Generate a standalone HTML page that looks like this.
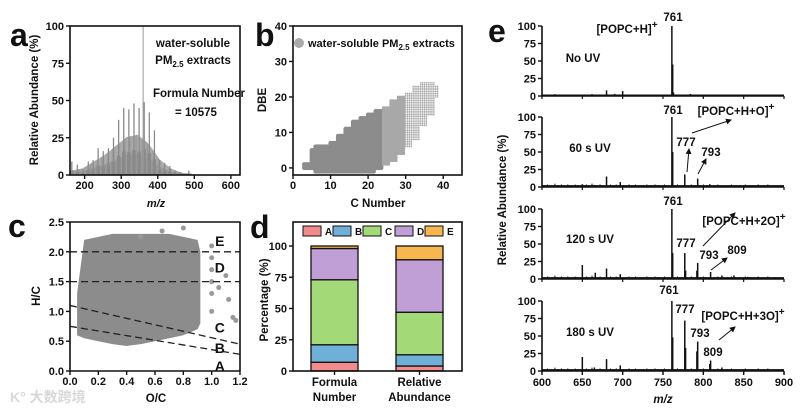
<!DOCTYPE html>
<html><head><meta charset="utf-8"><style>
body{margin:0;background:#fff}
svg{display:block;font-family:"Liberation Sans",Arial,sans-serif;font-weight:bold}
</style></head><body>
<svg id="fig" width="800" height="411" viewBox="0 0 800 411" xmlns="http://www.w3.org/2000/svg">
<g id="root"></g>
</svg>
<script>
// ---- Panel a data (m/z spectrum) ----
const aMainMz = [165,180,195,210,223,237,251,265,279,293,307,321,335,349,363,377,391,405,419,433,447,461,485];
const aMainH  = [9,7,4,9,10,18,16,18,25,37,45,44,48,45,49,42,30,10,8,6,3,2,3];
const aEnvMz  = [165,195,225,255,285,315,345,375,405,435,465,495];
const aEnvH   = [2,3,6,9,13,17,18,14,7,3,1,0.5];
const aTallMz = [360];
const aTallH  = [100];
// ---- Panel b data ----
const bC      = [3,5,6,8,10,12,14,16,18,20,22,24,26,28,30,32,34,36,38];
const bDbeMin = [0,0,-1,-1,-1,-1,-1,-1,-1,-1,0,1,2,4,6,8,12,15,20];
const bDbeMax = [1,5,6,6,7,9,11,13,14,15,16,17,19,20,21,23,24,24,23];
// ---- Panel c data ----
const cOC   = [0.05,0.1,0.2,0.3,0.4,0.5,0.6,0.7,0.8,0.9,0.92];
const cHmin = [0.6,0.55,0.5,0.45,0.42,0.45,0.5,0.55,0.6,0.7,0.8];
const cHmax = [1.3,2.2,2.25,2.3,2.3,2.3,2.3,2.3,2.25,2.2,2.0];
const cExtraOC = [1.0,1.0,1.0,1.0,1.0,1.0,1.05,1.1,1.12,1.15,1.17,0.8,0.65,0.5];
const cExtraHC = [2.1,1.9,1.7,1.3,1.0,1.5,1.4,1.6,1.2,0.9,0.85,2.4,2.35,2.25];
// ---- Panel d data ----
const dCats = [["Formula","Number"],["Relative","Abundance"]];
const dClasses = ["A","B","C","D","E"];
const dFormula = [7,14,52,25,2];
const dRelative = [4,9,34,42,11];
const dColors = ["#f28b8b","#6fb0d8","#a3d977","#bf9fd6","#f7b64e"];
// ---- Panel e data ----
const eNoiseMz = [603,607,612,616,620,624,628,632,636,641,645,655,658,662,668,672,676,685,688,692,701,705,708,712,716,722,726,730,735,740,744,748,752,768,772,785,788,797,800,804,815,818,825,830,835,840,845,852,858,862,868,875,880,888,892,896];
const eNoiseH  = [2,3,2,4,2,3,2,3,2,3,2,3,2,4,2,3,2,3,2,3,2,2,3,2,3,2,2,3,2,3,2,2,3,3,2,3,2,2,3,2,2,3,2,2,3,2,2,3,2,2,3,2,3,2,2,2];
const e1Mz = [650,680,690,700,761,762,763,784,830];
const e1H  = [2,8,3,7,100,45,5,3,2];
const e2Mz = [650,665,680,697,761,762,777,793,808];
const e2H  = [4,3,15,7,100,50,18,12,4];
const e3Mz = [650,666,680,697,761,762,777,778,792,793,809,823,838,855];
const e3H  = [20,9,15,7,100,37,37,12,12,23,10,5,5,3];
const e4Mz = [650,665,680,697,761,762,777,778,792,793,808,809,823];
const e4H  = [20,5,17,8,100,48,72,33,28,42,10,15,5];
const eSpectra = [[e1Mz,e1H],[e2Mz,e2H],[e3Mz,e3H],[e4Mz,e4H]];
const eLabels = ["No UV","60 s UV","120 s UV","180 s UV"];

const NS="http://www.w3.org/2000/svg";
const root=document.getElementById('root');
function mk(tag,attrs,parent,text){const e=document.createElementNS(NS,tag);for(const k in attrs)e.setAttribute(k,attrs[k]);if(text!==undefined)e.textContent=text;(parent||root).appendChild(e);return e;}
function lin(d0,d1,r0,r1){return v=>r0+(v-d0)*(r1-r0)/(d1-d0);}
function txt(x,y,s,size,anchor,parent){const t=mk('text',{x:x,y:y,'font-size':size,'text-anchor':anchor||'middle',fill:'#111'},parent,s);return t;}

// panel letters
[["a",10,46],["b",255,46],["c",8,237],["d",250,238],["e",488,42]].forEach(p=>{
 const t=txt(p[1],p[2],p[0],32,'start');
 
 
});

function axesBox(x0,x1,y0,y1,name,full){
 const g=mk('g',{});
 
 
 if(full) mk('rect',{x:x0,y:y0,width:x1-x0,height:y1-y0,fill:'none',stroke:'#111','stroke-width':1.6},g);
 else mk('path',{d:`M${x0},${y0}V${y1}H${x1}`,fill:'none',stroke:'#111','stroke-width':1.6},g);
 return g;
}
function yTicks(g,sc,vals,x0,labels,size){vals.forEach((v,i)=>{const y=sc(v);mk('line',{x1:x0-4,x2:x0,y1:y,y2:y,stroke:'#111','stroke-width':1.4},g);const t=txt(x0-6,y+4,labels?labels[i]:v,size||11,'end',g);});}
function xTicks(g,sc,vals,y0,labels,ly){vals.forEach((v,i)=>{const x=sc(v);mk('line',{x1:x,x2:x,y1:y0,y2:y0+4,stroke:'#111','stroke-width':1.4},g);const t=txt(x,ly,labels?labels[i]:v,11,'middle',g);});}

// ===== Panel a =====
(function(){
 const X=lin(160,625,70,240), Y=lin(0,100,175,26);
 const g=mk('g',{});
 for(let i=0;i<aEnvMz.length-1;i++){for(let m=aEnvMz[i];m<aEnvMz[i+1];m+=1.5){const h=aEnvH[i]+(aEnvH[i+1]-aEnvH[i])*(m-aEnvMz[i])/30;mk('line',{x1:X(m),x2:X(m),y1:175,y2:Y(h*((Math.round(m)%3)?0.8:1.5)),stroke:'#999','stroke-width':1},g);}}
 aMainMz.forEach((m,i)=>{[-2,0,2].forEach((o,k)=>{mk('line',{x1:X(m+o*1.5),x2:X(m+o*1.5),y1:175,y2:Y(aMainH[i]*(o?0.35:1)),stroke:'#8a8a8a','stroke-width':1.3},g);});});
 aTallMz.forEach((m,i)=>mk('line',{x1:X(m),x2:X(m),y1:175,y2:Y(aTallH[i]),stroke:'#999','stroke-width':1},g));
 const ax=axesBox(70,240,26,175,'panel-a-axes',true);
 yTicks(ax,Y,[0,25,50,75,100],70);
 xTicks(ax,X,[200,300,400,500,600],175,null,189);
 const xt=mk('text',{x:156,y:207,'font-size':11,'text-anchor':'middle','font-style':'italic',fill:'#111'},root,'m/z');
 const yt=mk('text',{transform:'translate(38,100) rotate(-90)','font-size':11.5,'text-anchor':'middle',fill:'#111'},root,'Relative Abundance (%)');
 const a1=txt(193,47,'water-soluble',11.5);
 const a2=mk('text',{x:193,y:64,'font-size':11.5,'text-anchor':'middle',fill:'#111'});a2.innerHTML='PM<tspan font-size="8" dy="3">2.5</tspan><tspan dy="-3"> extracts</tspan>';
 const a3=txt(199,97,'Formula Number',11.5);
 const a4=txt(196,116,'= 10575',11.5);
})();

// ===== Panel b =====
(function(){
 const X=lin(0,45,293,462), Y=lin(-2,40,175,26);
 const g=mk('g',{});
 for(let i=0;i<bC.length;i++){const c0=bC[i],c1=(i<bC.length-1)?bC[i+1]:bC[i]+1;for(let c=c0;c<c1;c+=0.5){const r=c<24?2.2:(c<30?1.3:0.8);const col=c<24?'#8c8c8c':'#a8a8a8';for(let d=bDbeMin[i];d<=bDbeMax[i];d+=0.5){mk('circle',{cx:X(c),cy:Y(d),r:r,fill:col},g);}}}
 const ax=axesBox(293,462,26,175,'panel-b-axes',true);
 yTicks(ax,Y,[0,10,20,30,40],293);
 xTicks(ax,X,[0,10,20,30,40],175,null,189);
 const xt=txt(378,207,'C Number',11.5);
 const yt=mk('text',{transform:'translate(266,100) rotate(-90)','font-size':11.5,'text-anchor':'middle',fill:'#111'},root,'DBE');
 const lg=mk('g',{});
 mk('circle',{cx:299,cy:43,r:5,fill:'#aaa'},lg);
 const lt=mk('text',{x:308,y:47,'font-size':11,fill:'#111'},lg);lt.innerHTML='water-soluble PM<tspan font-size="8" dy="3">2.5</tspan><tspan dy="-3"> extracts</tspan>';
})();

// ===== Panel c =====
(function(){
 const X=lin(0,1.2,70,240), Y=lin(0,2.5,371,222);
 const g=mk('g',{});
 let d='M'+X(cOC[0])+','+Y(cHmin[0]);
 for(let i=1;i<cOC.length;i++)d+='L'+X(cOC[i])+','+Y(cHmin[i]);
 for(let i=cOC.length-1;i>=0;i--)d+='L'+X(cOC[i])+','+Y(cHmax[i]);
 mk('path',{d:d+'Z',fill:'#8c8c8c'},g);
 cExtraOC.forEach((o,i)=>mk('circle',{cx:X(o),cy:Y(cExtraHC[i]),r:2.5,fill:'#999'},g));
 const dl=mk('g',{stroke:'#222','stroke-width':1.3,'stroke-dasharray':'7,4'});
 [[0,2.0,1.2,2.0],[0,1.5,1.2,1.5],[0,1.1,1.2,0.45],[0,0.75,1.2,0.28]].forEach(l=>mk('line',{x1:X(l[0]),y1:Y(l[1]),x2:X(l[2]),y2:Y(l[3])},dl));
 [["E",2.2],["D",1.75],["C",0.75],["B",0.4],["A",0.1]].forEach(p=>{const t=txt(X(1.05)+1,Y(p[1])+6,p[0],14);});
 const ax=axesBox(70,240,222,371,'panel-c-axes',false);
 mk('path',{d:'M70,222H240V371',fill:'none',stroke:'#111','stroke-width':1.6},ax);
 yTicks(ax,Y,[0,0.5,1,1.5,2,2.5],70,['0.0','0.5','1.0','1.5','2.0','2.5']);
 xTicks(ax,X,[0,0.2,0.4,0.6,0.8,1.0,1.2],371,['0.0','0.2','0.4','0.6','0.8','1.0','1.2'],385);
 const xt=txt(156,402,'O/C',11.5);
 const yt=mk('text',{transform:'translate(40,296) rotate(-90)','font-size':11.5,'text-anchor':'middle',fill:'#111'},root,'H/C');
 const wm=mk('text',{x:10,y:402,'font-size':14,fill:'#d8d8d8','font-family':'"Liberation Sans","Noto Sans CJK SC",sans-serif'},root,'K° 大数跨境');
})();

// ===== Panel d =====
(function(){
 const Y=lin(0,100,371,246);
 const barX=[[311,358],[396,443]];
 [dFormula,dRelative].forEach((vals,bi)=>{
  let acc=0;
  vals.forEach((v,k)=>{
   const r=mk('rect',{x:barX[bi][0],y:Y(acc+v),width:barX[bi][1]-barX[bi][0],height:Y(acc)-Y(acc+v),fill:dColors[k],stroke:'#111','stroke-width':1.3});
   
   
   acc+=v;
  });
 });
 const ax=axesBox(293,462,222,371,'panel-d-axes',true);
 yTicks(ax,Y,[0,25,50,75,100],293);
 [334.5,419.5].forEach((x,i)=>{mk('line',{x1:x,x2:x,y1:371,y2:375,stroke:'#111','stroke-width':1.4},ax);
  const t1=txt(x,386,dCats[i][0],11.5);
  const t2=txt(x,401,dCats[i][1],11.5);});
 const yt=mk('text',{transform:'translate(268,300) rotate(-90)','font-size':11.5,'text-anchor':'middle',fill:'#111'},root,'Percentage (%)');
 const lg=mk('g',{});
 const lx=[303,333,363,395,425];
 dClasses.forEach((c,k)=>{mk('rect',{x:lx[k],y:226,width:18,height:10,fill:dColors[k],stroke:'#111','stroke-width':1},lg);txt(lx[k]+22,235,c,10,'start',lg);});
})();

// ===== Panel e =====
(function(){
 const X=lin(600,900,542,784);
 const tops=[26,117,209,301];
 eSpectra.forEach((sp,pi)=>{
  const Y=lin(0,100,tops[pi]+70,tops[pi]);
  const g=mk('g',{});
  eNoiseMz.forEach((m,i)=>mk('line',{x1:X(m),x2:X(m),y1:Y(0),y2:Y(eNoiseH[i]*(pi?1.2:0.7)),stroke:'#111','stroke-width':1},g));
  mk('path',{d:`M542,${Y(1.5)}H784`,stroke:'#111','stroke-width':pi?1.6:1,fill:'none'},g);
  sp[0].forEach((m,i)=>mk('line',{x1:X(m),x2:X(m),y1:Y(0),y2:Y(sp[1][i]),stroke:'#111','stroke-width':1.5},g));
  const ax=axesBox(542,784,tops[pi],tops[pi]+70,'panel-e-axes-'+(pi+1),false);
  yTicks(ax,Y,[0,25,50,75,100],542,null,11);
  const xl=[600,650,700,750,800,850,900];
  xl.forEach(v=>mk('line',{x1:X(v),x2:X(v),y1:Y(0),y2:Y(0)+3,stroke:'#111','stroke-width':1.2},ax));
  if(pi===3) xTicks(ax,X,xl,Y(0),null,386);
  const t=txt(pi?590:583,[62,152,243,336][pi],eLabels[pi],11.5);
 });
 const xt=mk('text',{x:663,y:403,'font-size':11.5,'text-anchor':'middle','font-style':'italic',fill:'#111'},root,'m/z');
 const yt=mk('text',{transform:'translate(506,200) rotate(-90)','font-size':11.5,'text-anchor':'middle',fill:'#111'},root,'Relative Abundance (%)');
 const ann=[["761",673,21],["761",673,114],["777",686,146],["793",711,156],["761",673,205],["777",686,247],["793",709,259],["809",737,254],["761",669,294],["777",685,313],["793",700,337],["809",713,356]];
 ann.forEach(a=>{const t=txt(a[1],a[2],a[0],11.5);});
 const ions=[["[POPC+H]",627,33],["[POPC+H+O]",736,115],["[POPC+H+2O]",744,225],["[POPC+H+3O]",743,320]];
 ions.forEach(a=>{const t=mk('text',{x:a[1],y:a[2],'font-size':11.5,'text-anchor':'middle',fill:'#111'});t.innerHTML=a[0]+'<tspan dy="-5" font-size="10">+</tspan>';});
 const defs=mk('defs',{});const mkr=mk('marker',{id:'ah',markerWidth:6,markerHeight:6,refX:5,refY:3,orient:'auto'},defs);mk('path',{d:'M0,0L6,3L0,6Z',fill:'#111'},mkr);
 [[687,172,689,149],[698,174,706,159],[692,133,731,120],[703,246,735,213],[711,270,727,258],[719,340,735,327]].forEach(a=>{const l=mk('line',{x1:a[0],y1:a[1],x2:a[2],y2:a[3],stroke:'#111','stroke-width':1,'marker-end':'url(#ah)'});});
})();
</script>
</body></html>
